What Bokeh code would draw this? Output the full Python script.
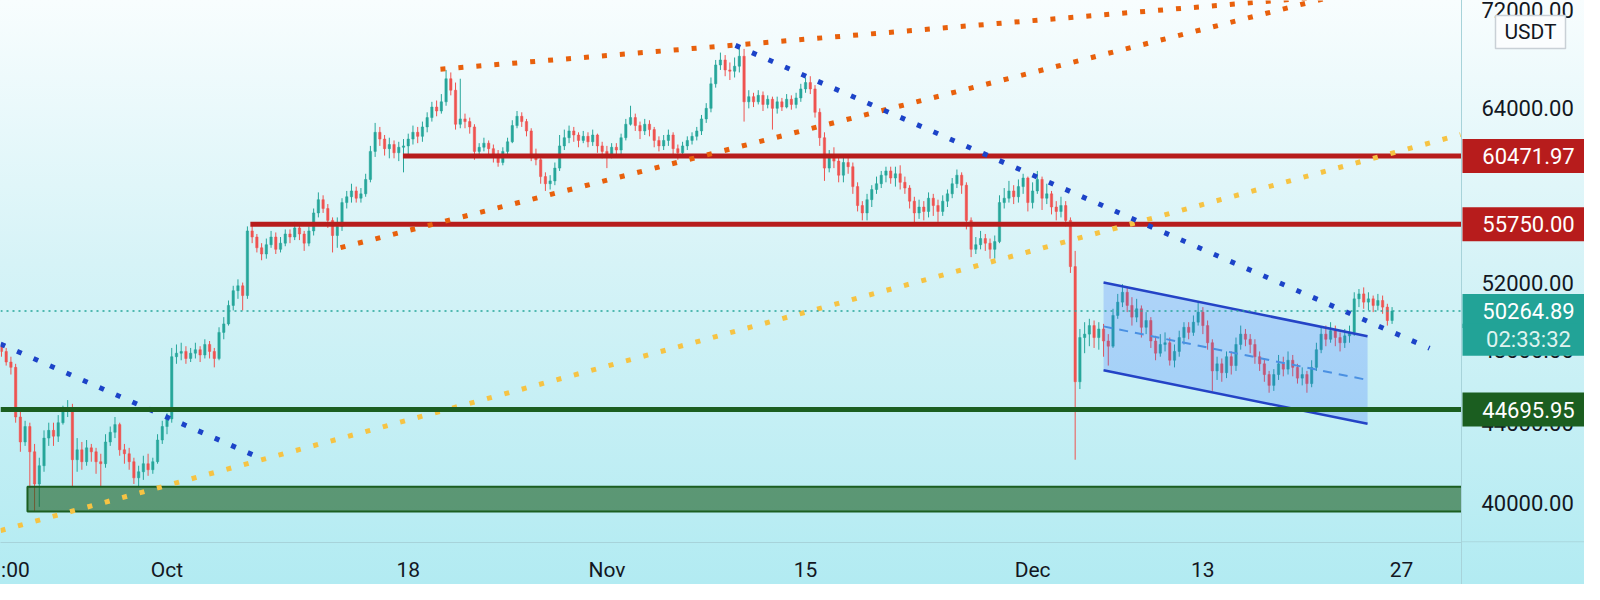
import math
import pandas as pd
from bokeh.plotting import figure
from bokeh.layouts import row
from bokeh.models import (ColumnDataSource, FixedTicker, Range1d, Span)
from bokeh.embed import file_html
from bokeh.resources import INLINE

# ---------------- data (BTC/USDT, 8h candles, prices in hundreds of USDT) ----------------
START = "2021-09-19 08:00"
FREQ = "8h"
UNIT = 100.0
FIRST_OPEN = 482.0
CLOSE = [
    479, 473,
    470, 443, 430,  438, 425, 409,  418, 432, 436,  433, 440, 446,  448, 421, 426,
    420, 427, 425,  420, 419, 430,  435, 439, 426,  424, 420, 412,  415, 419, 416,
    420, 431, 438,
    442, 476, 478,  479, 475, 478,  480, 477, 483,  479, 475, 490,  495, 506, 515,
    518, 512, 553,  549, 542, 538,  544, 549, 541,  545, 551, 549,  555, 551, 545,
    553, 565, 574,  568, 560, 550,  556, 572, 576,  580, 575, 578,  588, 608, 622,
    617, 610, 613,  607, 611, 612,  617, 622, 619,  626, 633, 641,  638, 645, 663,
    654, 628, 632,  630, 626, 608,  611, 614, 610,  606, 600, 608,  615, 627, 634,
    630, 623, 606,  602, 590, 585,  587, 596, 612,  618, 623, 620,  616, 619, 615,
    620, 612, 608,
    606, 611, 609,  618, 628, 633,  627, 623, 628,  624, 616, 612,  616, 620, 610,
    607, 612, 616,  619, 623, 632,  640, 659, 674,  678, 670, 669,  673, 681, 645,
    649, 645, 650,  643, 647, 640,  645, 641, 647,  643, 648, 655,  660, 655, 637,
    618, 596, 604,  601, 591, 600,  597, 583, 570,  565, 574, 581,  585, 591, 594,
    589, 592, 586,  582, 573, 565,  569, 566, 575,  570, 566, 573,  578, 585, 591,
    584, 560, 541,  544, 548, 545,  541, 546, 572,  575, 580, 576,  583, 589, 572,
    580, 588, 575,  578, 569, 566,  570, 560, 530,  462, 487, 489,  494, 487, 492,
    485, 482, 500,  508, 514, 506,  499, 504, 493,  497, 485, 478,  483, 484, 474,
    479, 487, 493,  490, 496, 502,  494, 484, 468,  472, 467, 476,  471, 483, 489,
    486, 483, 476,  472, 466, 460,  466, 472, 469,  474, 470, 464,  466, 461, 470,
    480, 489, 486,  491, 487, 484,  488, 490, 510,  513, 508, 510,  506, 509, 505,
    497, 502.6489,
]
HIGH = [
    484, 481,
    476, 472, 446,  441, 440, 429,  422, 436, 440,  440, 444, 449,  452, 450, 432,
    430, 431, 429,  427, 424, 434,  438, 443, 440,  429, 427, 422,  418, 423, 424,
    422, 434, 441,
    445, 481, 483,  484, 482, 481,  484, 482, 486,  485, 481, 493,  499, 509, 518,
    522, 520, 556,  558, 551, 545,  548, 553, 552,  549, 554, 554,  559, 558, 553,
    556, 568, 579,  577, 571, 562,  562, 575, 580,  585, 583, 582,  592, 612, 629,
    626, 620, 618,  616, 615, 617,  621, 627, 626,  630, 637, 645,  646, 651, 670,
    668, 660, 663,  636, 633, 628,  614, 618, 616,  613, 609, 611,  618, 631, 638,
    637, 632, 625,  610, 604, 593,  591, 600, 620,  624, 627, 626,  622, 623, 622,
    624, 621, 615,
    612, 614, 614,  621, 632, 642,  636, 630, 632,  631, 626, 619,  620, 624, 622,
    613, 615, 619,  622, 626, 635,  644, 664, 678,  684, 682, 676,  680, 690, 687,
    654, 652, 654,  653, 650, 649,  649, 648, 651,  650, 652, 659,  664, 665, 658,
    640, 622, 609,  611, 604, 604,  605, 600, 586,  573, 578, 584,  590, 594, 597,
    597, 597, 598,  590, 584, 576,  574, 573, 579,  578, 574, 577,  581, 589, 595,
    593, 586, 562,  549, 553, 551,  548, 550, 577,  582, 587, 584,  588, 592, 590,
    586, 594, 590,  585, 580, 573,  576, 573, 562,  540, 492, 496,  498, 497, 496,
    495, 489, 504,  513, 519, 517,  511, 510, 506,  502, 499, 488,  489, 490, 487,
    483, 491, 496,  496, 500, 508,  505, 497, 486,  476, 475, 479,  479, 487, 494,
    492, 489, 486,  479, 475, 468,  469, 477, 476,  479, 477, 472,  470, 468, 474,
    484, 493, 494,  496, 494, 490,  492, 494, 514,  516, 517, 514,  512, 513, 512,
    507, 505,
]
LOW = [
    476, 471,
    466, 440, 425,  428, 407, 396,  398, 415, 428,  428, 430, 439,  443, 408, 415,
    416, 418, 420,  414, 408, 417,  428, 432, 423,  419, 416, 409,  408, 411, 413,
    414, 419, 429,
    434, 440, 472,  474, 472, 473,  475, 473, 475,  475, 470, 474,  486, 494, 503,
    510, 503, 510,  545, 539, 534,  535, 542, 538,  539, 543, 545,  547, 547, 540,
    543, 550, 562,  565, 555, 539,  542, 553, 568,  572, 572, 572,  576, 586, 604,
    612, 605, 603,  603, 601, 593,  606, 613, 614,  615, 622, 630,  634, 636, 642,
    650, 624, 625,  625, 621, 602,  604, 608, 604,  600, 597, 598,  606, 614, 625,
    626, 619, 601,  598, 585, 580,  581, 584, 594,  609, 614, 615,  611, 614, 611,
    612, 607, 603,
    596, 603, 604,  606, 616, 627,  623, 617, 620,  619, 611, 608,  609, 612, 606,
    602, 604, 609,  613, 616, 620,  629, 637, 656,  670, 665, 662,  664, 668, 630,
    640, 641, 643,  638, 640, 624,  636, 638, 640,  639, 640, 645,  652, 651, 633,
    612, 587, 593,  596, 586, 586,  592, 578, 566,  560, 560, 569,  578, 582, 586,
    585, 583, 581,  578, 568, 558,  561, 560, 562,  563, 559, 563,  569, 575, 582,
    578, 554, 536,  538, 541, 540,  535, 535, 545,  568, 572, 571,  572, 578, 566,
    568, 578, 567,  571, 564, 560,  562, 556, 526,  421, 458, 478,  482, 481, 480,
    476, 471, 481,  498, 505, 502,  494, 496, 487,  489, 481, 474,  476, 479, 471,
    470, 476, 483,  486, 488, 494,  489, 480, 457,  463, 462, 464,  466, 468, 480,
    482, 478, 472,  468, 462, 456,  457, 463, 465,  466, 465, 461,  460, 456, 459,
    468, 478, 482,  484, 482, 479,  481, 484, 488,  505, 504, 503,  502, 503, 501,
    494, 495,
]

LAST_PRICE = 50264.89
COUNTDOWN = "02:33:32"
COUNTDOWN_AT = 48570          # price level where the countdown line sits
QUOTE = "USDT"
QUOTE_AT = 70110

RESIST_LEVELS = [60471.97, 55750.00]
RESIST_FROM = ["2021-10-17 15:00", "2021-10-06 21:00"]
SUPPORT_LEVEL = 44695.95
ZONE_FROM = "2021-09-21 04:00"
ZONE_LOW = 39575
ZONE_HIGH = 40767

# trend lines: (start, end) times and prices
ORANGE_TOP_T = ["2021-10-20 06:30", "2021-12-26 22:20"]
ORANGE_TOP_P = [67060, 73660]
ORANGE_LOW_T = ["2021-10-13 05:30", "2021-12-24 09:40"]
ORANGE_LOW_P = [54210, 73840]
BLUE_LEFT_T = ["2021-09-19 06:30", "2021-10-07 00:40"]
BLUE_LEFT_P = [48330, 42350]
BLUE_RIGHT_T = ["2021-11-10 01:30", "2021-12-28 23:20"]
BLUE_RIGHT_P = [68990, 48080]
YELLOW_T = ["2021-09-19 06:30", "2021-12-31 03:50"]
YELLOW_P = [38690, 62030]

# descending parallel channel
CH_T = ["2021-12-06 00:00", "2021-12-24 14:30"]
CH_UPPER = [52000, 48780]
CH_LOWER = [46840, 43940]

X_TICKS = ["2021-09-20 07:40", "2021-10-01", "2021-10-18", "2021-11-01",
           "2021-11-15", "2021-12-01", "2021-12-13", "2021-12-27"]
X_TICK_LABELS = [":00", "Oct", "18", "Nov", "15", "Dec", "13", "27"]
Y_TICKS = [40000, 44000, 48000, 52000, 56000, 60000, 64000, 72000]

X_START = "2021-09-19 06:23"
X_END = "2021-12-31 05:25"
Y_START = 38144
Y_END = 72782

# ---------------- style ----------------
UP = "#26a69a"
DOWN = "#ef5350"
RED = "#b71c1c"
GREEN = "#1b5e20"
TEAL = "#22a397"
FONT = "Roboto"
TXT = "#131722"
SEP = "#a7d3da"
GRADIENT = "linear-gradient(180deg, #f8fdfe 0%, #d6f3f7 45%, #b2ebf2 100%)"
MAIN_W, SIDE_W, H, AXIS_H = 1461, 123, 584, 40

times = pd.date_range(START, periods=len(CLOSE), freq=FREQ)
close = [c * UNIT for c in CLOSE]
high = [h * UNIT for h in HIGH]
low = [l * UNIT for l in LOW]
opn = [FIRST_OPEN * UNIT] + close[:-1]
src = ColumnDataSource(dict(
    t=times, o=opn, c=close, h=high, l=low,
    top=[max(a, b) for a, b in zip(opn, close)],
    bot=[min(a, b) for a, b in zip(opn, close)],
    col=[UP if c >= o else DOWN for o, c in zip(opn, close)],
))

def ts(s):
    return pd.Timestamp(s)

def ms(s):
    return pd.Timestamp(s).value / 1e6

# ---------------- main chart ----------------
yr = Range1d(Y_START, Y_END)
p = figure(width=MAIN_W, height=H, x_axis_type="datetime", y_axis_type="log",
           y_axis_location=None,
           x_range=Range1d(ts(X_START), ts(X_END)), y_range=yr,
           output_backend="svg", toolbar_location=None,
           min_border_left=0, min_border_top=0, min_border_right=0,
           min_border_bottom=AXIS_H)
p.styles = {"background": GRADIENT}
p.background_fill_color = None
p.border_fill_color = None
p.outline_line_color = None
p.grid.grid_line_color = None

ax = p.xaxis[0]
ax.axis_line_color = SEP
ax.major_tick_line_color = None
ax.minor_tick_line_color = None
ax.major_tick_out = 0
ax.major_tick_in = 0
ax.minor_tick_out = 0
ax.minor_tick_in = 0
ax.axis_label_standoff = 0
ax.major_label_text_color = TXT
ax.major_label_text_font = FONT
ax.major_label_text_font_size = "21px"
ax.major_label_standoff = 15
x_tick_vals = [ms(s) for s in X_TICKS]
ax.ticker = FixedTicker(ticks=x_tick_vals)
ax.major_label_overrides = {v: lab for v, lab in zip(x_tick_vals, X_TICK_LABELS)}

# candles
bar_w = pd.Timedelta(FREQ).total_seconds() * 1000 * 0.5
p.segment("t", "h", "t", "l", source=src, line_color="col", line_width=1)
p.vbar(x="t", width=bar_w, top="top", bottom="bot", source=src,
       fill_color="col", line_color="col", line_width=0.5)

# support zone
p.quad(left=[ts(ZONE_FROM)], right=[ts("2022-01-10")], bottom=[ZONE_LOW], top=[ZONE_HIGH],
       fill_color=GREEN, fill_alpha=0.6, line_color=GREEN, line_width=2)

# parallel channel
p.patch([ts(CH_T[0]), ts(CH_T[1]), ts(CH_T[1]), ts(CH_T[0])],
        [CH_UPPER[0], CH_UPPER[1], CH_LOWER[1], CH_LOWER[0]],
        fill_color="#2962ff", fill_alpha=0.22, line_color=None)
p.line([ts(t) for t in CH_T], CH_UPPER, line_color="#2443c6", line_width=2.5)
p.line([ts(t) for t in CH_T], CH_LOWER, line_color="#2443c6", line_width=2.5)
ch_mid = [(u * l) ** 0.5 for u, l in zip(CH_UPPER, CH_LOWER)]
p.line([ts(t) for t in CH_T], ch_mid, line_color="#4a90e2", line_width=2, line_dash="9 7")

# horizontal levels
for lvl, frm in zip(RESIST_LEVELS, RESIST_FROM):
    p.segment(x0=[ts(frm)], y0=[lvl], x1=[ts("2022-01-10")], y1=[lvl],
              line_color=RED, line_width=5)
p.add_layout(Span(location=SUPPORT_LEVEL, dimension="width", line_color=GREEN, line_width=5))

# dotted trend lines
dot = dict(line_width=5, line_dash="5 13", line_cap="butt")
p.line([ts(t) for t in YELLOW_T], YELLOW_P, line_color="#f6c343", **dot)
p.line([ts(t) for t in ORANGE_TOP_T], ORANGE_TOP_P, line_color="#e8600c", **dot)
p.line([ts(t) for t in ORANGE_LOW_T], ORANGE_LOW_P, line_color="#e8600c", **dot)
p.line([ts(t) for t in BLUE_LEFT_T], BLUE_LEFT_P, line_color="#1c43c8", **dot)
p.line([ts(t) for t in BLUE_RIGHT_T], BLUE_RIGHT_P, line_color="#1c43c8", **dot)

# last price line
p.add_layout(Span(location=LAST_PRICE, dimension="width", line_color=UP,
                  line_width=1.3, line_dash="2 4"))

# ---------------- price scale panel (same log price scale, frames aligned) ----------------
s = figure(width=SIDE_W, height=H, y_axis_type="log",
           x_range=Range1d(0, SIDE_W), y_range=yr,
           x_axis_location=None, y_axis_location=None,
           output_backend="svg", toolbar_location=None,
           min_border_left=0, min_border_top=0, min_border_right=0,
           min_border_bottom=AXIS_H)
s.styles = {"background": GRADIENT, "box-shadow": f"inset 1px 0 0 {SEP}"}
s.background_fill_color = None
s.border_fill_color = None
s.outline_line_color = None
s.grid.grid_line_color = None

s.add_layout(Span(location=Y_START * math.exp(0.6 / 842), dimension="width",
                  line_color=SEP, line_width=1))

tick_src = ColumnDataSource(dict(y=Y_TICKS, txt=[f"{v:.2f}" for v in Y_TICKS]))
s.text(x=20, y="y", text="txt", source=tick_src, text_color=TXT, text_font_size="22px",
       text_align="left", text_baseline="middle", text_font={"value": FONT})

tags = ColumnDataSource(dict(
    y=RESIST_LEVELS + [SUPPORT_LEVEL, LAST_PRICE, COUNTDOWN_AT],
    txt=[f"{v:.2f}" for v in RESIST_LEVELS] + [f"{SUPPORT_LEVEL:.2f}", f"{LAST_PRICE:.2f}", COUNTDOWN],
    bg=[RED, RED, GREEN, TEAL, TEAL],
    fg=["white", "white", "white", "white", "#dff3f0"],
    h=[34, 34, 34, 34, 32],
))
s.rect(x=65, y="y", width=128, height="h", height_units="screen", source=tags,
       fill_color="bg", line_color="bg", line_width=0)
s.text(x=67, y="y", text="txt", source=tags, text_color="fg", text_font_size="22px",
       text_align="center", text_baseline="middle", text_font={"value": FONT})

s.rect(x=[69], y=[QUOTE_AT], width=70, height=33, height_units="screen",
       fill_color="#fbfdfe", line_color="#c9d0d6", line_width=1.5)
s.text(x=[69], y=[QUOTE_AT], text=[QUOTE], text_color=TXT, text_font_size="21px",
       text_align="center", text_baseline="middle", text_font={"value": FONT})

layout = row(p, s, spacing=0)
open("out.html", "w").write(file_html(layout, INLINE))
